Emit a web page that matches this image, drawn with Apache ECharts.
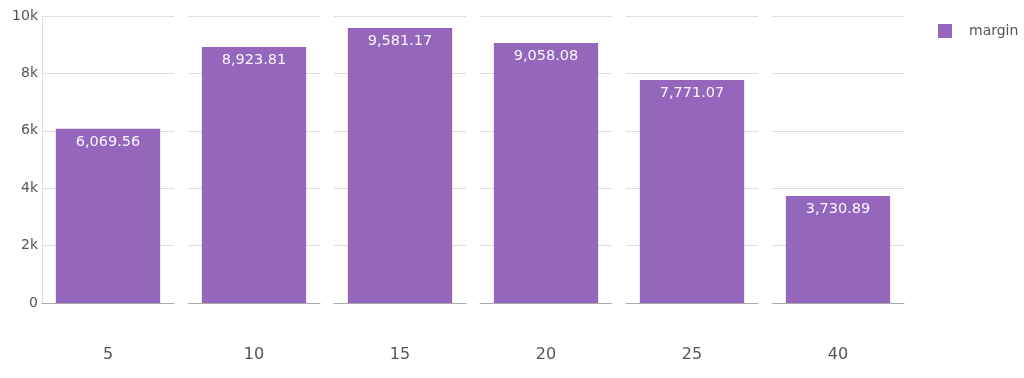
<!DOCTYPE html>
<html>
<head>
<meta charset="utf-8">
<script src="https://cdn.jsdelivr.net/npm/echarts@6/dist/echarts.min.js"></script>
<style>
  html, body { margin: 0; padding: 0; background: #fff; }
  #chart { width: 1024px; height: 378px; }
</style>
</head>
<body>
<div id="chart"></div>
<script>
// one facet per discount level
const categories = ['5', '10', '15', '20', '25', '40']
const margin = [6069.56, 8923.81, 9581.17, 9058.08, 7771.07, 3730.89]
const yTicks = [0, 2000, 4000, 6000, 8000, 10000]

const chart = echarts.init(document.getElementById('chart'))
const font = 'DejaVu Sans, Verdana, sans-serif'

const grids = []
const xAxes = []
const yAxes = []
const series = []

categories.forEach((cat, i) => {
  grids.push({ left: 42 + 146 * i, top: 16, width: 132, height: 287 })
  xAxes.push({
    type: 'category',
    gridIndex: i,
    data: [cat],
    axisTick: { show: false },
    axisLine: { lineStyle: { color: '#aaa', width: 1 } },
    axisLabel: { color: '#555', fontSize: 16, fontFamily: font, margin: 44 }
  })
  yAxes.push({
    type: 'value',
    gridIndex: i,
    min: yTicks[0],
    max: yTicks[yTicks.length - 1],
    interval: 2000,
    axisLine: { show: i === 0, lineStyle: { color: '#ddd' } },
    axisTick: { show: false },
    axisLabel: {
      show: i === 0,
      color: '#555',
      fontSize: 14,
      fontFamily: font,
      margin: 4,
      formatter: v => v === 0 ? '0' : (v / 1000) + 'k'
    },
    splitLine: { lineStyle: { color: '#dedede', width: 1 } }
  })
  series.push({
    name: 'margin',
    type: 'bar',
    xAxisIndex: i,
    yAxisIndex: i,
    data: [margin[i]],
    barWidth: '79%',
    itemStyle: { color: '#9467bd' },
    label: {
      show: true,
      position: 'insideTop',
      distance: 6,
      color: 'rgba(255,255,255,0.95)',
      fontSize: 14.5,
      fontFamily: font,
      formatter: p => p.value.toLocaleString('en-US', { minimumFractionDigits: 2, maximumFractionDigits: 2 })
    }
  })
})

chart.setOption({
  animation: false,
  textStyle: { fontFamily: font },
  legend: {
    data: ['margin'],
    left: 938,
    top: 24,
    padding: 0,
    icon: 'rect',
    itemWidth: 14,
    itemHeight: 14,
    itemGap: 16,
    textStyle: { color: '#555', fontSize: 14, padding: [0, 0, 0, 12] }
  },
  grid: grids,
  xAxis: xAxes,
  yAxis: yAxes,
  series: series
})
</script>
</body>
</html>
